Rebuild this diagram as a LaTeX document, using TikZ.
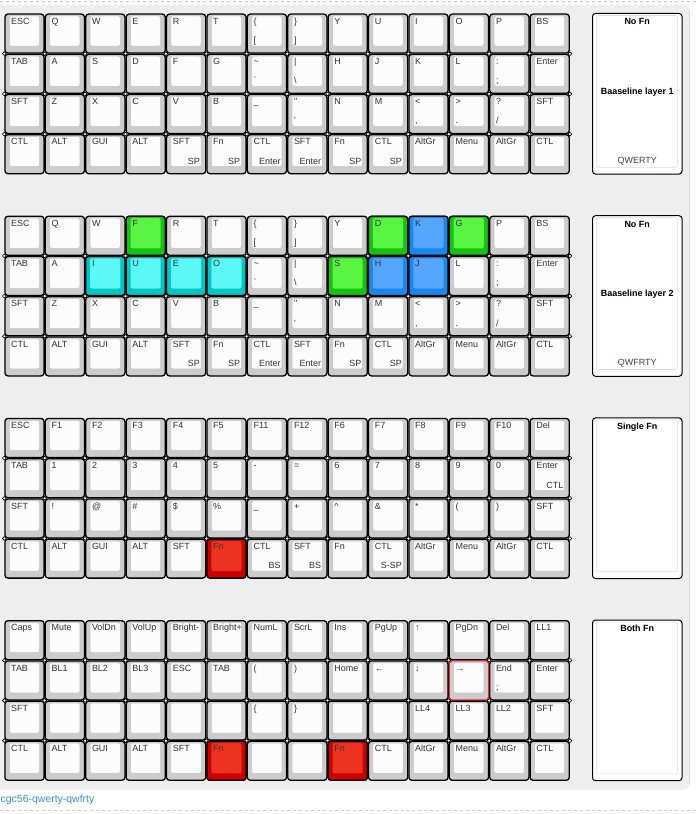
\documentclass[tikz,border=0pt]{standalone}
\usepackage{fontspec}
\newfontfamily\keyfont{Liberation Sans}
\usepackage{xcolor}
\usepackage{tikz}
\definecolor{PanelGrey} {HTML}{EEEEEE}
\definecolor{PanelEdge} {HTML}{DDDDDD}
\definecolor{DashGrey}  {HTML}{CCCCCC}
\definecolor{CapGrey}   {HTML}{CCCCCC}
\definecolor{CapTop}    {HTML}{FCFCFC}
\definecolor{CapEdge}   {HTML}{C4C4C4}
\definecolor{LabelInk}  {HTML}{333333}
\definecolor{FootInk}   {HTML}{3A4257}
\definecolor{LinkBlue}  {HTML}{3D8CC9}
\definecolor{GreenOut}  {HTML}{12C412}
\definecolor{GreenIn}   {HTML}{5AF543}
\definecolor{CyanOut}   {HTML}{00C6C6}
\definecolor{CyanIn}    {HTML}{5DF7F5}
\definecolor{BlueOut}   {HTML}{1589F0}
\definecolor{BlueIn}    {HTML}{55A6FF}
\definecolor{RedOut}    {HTML}{CC0000}
\definecolor{RedIn}     {HTML}{EC3322}
\definecolor{RedLine}   {HTML}{FF2222}

\begin{document}
\begin{tikzpicture}[x=1bp, y=-1bp, font=\keyfont\fontsize{9}{11}\selectfont,
  keycap/.style={draw=black, line width=1.3bp, fill=CapGrey, rounded corners=3bp},
  captop/.style={fill=CapTop, draw=CapEdge, line width=0.5bp, rounded corners=2bp},
  joint/.style={draw=black, fill=white, line width=0.6bp},
  lbl/.style={anchor=base west, inner sep=0pt, text=LabelInk},
  lblr/.style={anchor=base east, inner sep=0pt, text=LabelInk},
  legendbox/.style={draw=black, line width=1bp, fill=white, rounded corners=3bp},
  legendtop/.style={draw=PanelEdge, line width=0.6bp, rounded corners=2bp},
  legendtxt/.style={anchor=base, inner sep=0pt, font=\keyfont\fontsize{9}{11}\selectfont\bfseries}]

  \useasboundingbox (0,0) rectangle (698,814);

  % ===== BACKGROUND =====
  \fill[PanelGrey, rounded corners=5bp] (-10,5) rectangle (689.5,789.5);
  \draw[PanelEdge, line width=0.8bp] (689.5,10) -- (689.5,785);
  \draw[dashed, DashGrey, line width=0.6bp] (0,1.5) -- (698,1.5);
  \draw[dashed, DashGrey, line width=0.6bp] (0,810) -- (698,810);
  \node[anchor=base west, inner sep=0pt, text=LinkBlue,
        font=\keyfont\fontsize{10.5}{12}\selectfont] (link) at (0.5,802.5) {cgc56-qwerty-qwfrty};

  % ===== KEYCAPS (4 layers x 4 rows x 14 keys) =====
  \foreach \L in {0,...,3}{
    \foreach \r in {0,...,3}{
      \foreach \c in {0,...,13}{
        \pgfmathsetmacro\X{4.3+40.4*\c}
        \pgfmathsetmacro\Y{13.5+202.2*\L+40.2*\r}
        \draw[keycap] (\X+0.6,\Y+0.6) rectangle (\X+39.8,\Y+39.6);
        \draw[captop] (\X+5,\Y+2.5) rectangle (\X+35.2,\Y+32.6);
      }
    }
  }

  % highlighted keys (layer/row/col/outer/top)
  \foreach \L/\r/\c/\oc/\ic in {1/0/3/GreenOut/GreenIn, 1/0/9/GreenOut/GreenIn,
      1/0/10/BlueOut/BlueIn, 1/0/11/GreenOut/GreenIn, 1/1/2/CyanOut/CyanIn,
      1/1/3/CyanOut/CyanIn, 1/1/4/CyanOut/CyanIn, 1/1/5/CyanOut/CyanIn,
      1/1/8/GreenOut/GreenIn, 1/1/9/BlueOut/BlueIn, 1/1/10/BlueOut/BlueIn,
      2/3/5/RedOut/RedIn, 3/3/5/RedOut/RedIn, 3/3/8/RedOut/RedIn}{
    \pgfmathsetmacro\X{4.3+40.4*\c}
    \pgfmathsetmacro\Y{13.5+202.2*\L+40.2*\r}
    \draw[keycap, fill=\oc] (\X+0.6,\Y+0.6) rectangle (\X+39.8,\Y+39.6);
    \fill[fill=\ic, rounded corners=2bp] (\X+5,\Y+2.5) rectangle (\X+35.2,\Y+32.6);
  }
  % red outlined arrow key
  \draw[keycap, draw=RedLine, line width=1bp] (4.3+40.4*11+0.6,13.5+202.2*3+40.2+0.6)
        rectangle (4.3+40.4*11+39.8,13.5+202.2*3+40.2+39.6);
  \draw[captop] (4.3+40.4*11+5,13.5+202.2*3+40.2+2.5)
        rectangle (4.3+40.4*11+35.2,13.5+202.2*3+40.2+32.6);

  % joints between rows
  \foreach \L in {0,...,3}{
    \foreach \r in {1,2,3}{
      \foreach \c in {0,...,14}{
        \filldraw[joint] (4.3+40.4*\c,13.5+202.2*\L+40.2*\r) circle (1.9bp);
      }
    }
  }

  % ===== LABELS: layers 1 and 2 (shared rows) =====
  \foreach \L in {0,1}{
    \foreach \t [count=\c from 0] in {SFT,Z,X,C,V,B,\_,",N,M,<,>,?,SFT}{
      \node[lbl] (t-\L-2-\c) at (4.3+40.4*\c+6.7,13.5+202.2*\L+80.4+10.8) {\t};
    }
    \foreach \t [count=\c from 0] in {CTL,ALT,GUI,ALT,SFT,Fn,CTL,SFT,Fn,CTL,AltGr,Menu,AltGr,CTL}{
      \node[lbl] (t-\L-3-\c) at (4.3+40.4*\c+6.7,13.5+202.2*\L+120.6+10.8) {\t};
    }
    % second legend, bottom left
    \foreach \r/\c/\s in {0/6/[, 0/7/], 1/6/`, 1/7/\textbackslash, 1/12/;,
        2/7/', 2/10/{,}, 2/11/., 2/12/{/}}{
      \node[lbl] (b-\L-\r-\c) at (4.3+40.4*\c+6.7,13.5+202.2*\L+40.2*\r+29.9) {\s};
    }
    % hold legend, bottom right
    \foreach \c/\s in {4/SP,5/SP,6/Enter,7/Enter,8/SP,9/SP}{
      \node[lblr] (h-\L-\c) at (4.3+40.4*\c+34.1,13.5+202.2*\L+120.6+29.9) {\s};
    }
  }
  \foreach \t [count=\c from 0] in {ESC,Q,W,E,R,T,\{,\},Y,U,I,O,P,BS}{
    \node[lbl] (t-0-0-\c) at (4.3+40.4*\c+6.7,13.5+10.8) {\t};
  }
  \foreach \t [count=\c from 0] in {TAB,A,S,D,F,G,\textasciitilde,|,H,J,K,L,:,Enter}{
    \node[lbl] (t-0-1-\c) at (4.3+40.4*\c+6.7,13.5+40.2+10.8) {\t};
  }
  \foreach \t [count=\c from 0] in {ESC,Q,W,F,R,T,\{,\},Y,D,K,G,P,BS}{
    \node[lbl] (t-1-0-\c) at (4.3+40.4*\c+6.7,215.7+10.8) {\t};
  }
  \foreach \t [count=\c from 0] in {TAB,A,I,U,E,O,\textasciitilde,|,S,H,J,L,:,Enter}{
    \node[lbl] (t-1-1-\c) at (4.3+40.4*\c+6.7,215.7+40.2+10.8) {\t};
  }

  % ===== LABELS: layer 3 (single Fn) =====
  \foreach \t [count=\c from 0] in {ESC,F1,F2,F3,F4,F5,F11,F12,F6,F7,F8,F9,F10,Del}{
    \node[lbl] (t-2-0-\c) at (4.3+40.4*\c+6.7,417.9+10.8) {\t};
  }
  \foreach \t [count=\c from 0] in {TAB,1,2,3,4,5,-,=,6,7,8,9,0,Enter}{
    \node[lbl] (t-2-1-\c) at (4.3+40.4*\c+6.7,417.9+40.2+10.8) {\t};
  }
  \foreach \t [count=\c from 0] in {SFT,!,@,\#,\$,\%,\_,+,\textasciicircum,\&,*,{(},{)},SFT}{
    \node[lbl] (t-2-2-\c) at (4.3+40.4*\c+6.7,417.9+80.4+10.8) {\t};
  }
  \foreach \t [count=\c from 0] in {CTL,ALT,GUI,ALT,SFT,Fn,CTL,SFT,Fn,CTL,AltGr,Menu,AltGr,CTL}{
    \node[lbl] (t-2-3-\c) at (4.3+40.4*\c+6.7,417.9+120.6+10.8) {\t};
  }
  \foreach \r/\c/\s in {1/13/CTL, 3/6/BS, 3/7/BS, 3/9/S-SP}{
    \node[lblr] (h-2-\r-\c) at (4.3+40.4*\c+34.1,417.9+40.2*\r+29.9) {\s};
  }

  % ===== LABELS: layer 4 (both Fn) =====
  \foreach \t [count=\c from 0] in {Caps,Mute,VolDn,VolUp,Bright-,Bright+,NumL,ScrL,Ins,PgUp,↑,PgDn,Del,LL1}{
    \node[lbl] (t-3-0-\c) at (4.3+40.4*\c+6.7,620.1+10.8) {\t};
  }
  \foreach \t [count=\c from 0] in {TAB,BL1,BL2,BL3,ESC,TAB,{(},{)},Home,←,↓,→,End,Enter}{
    \node[lbl] (t-3-1-\c) at (4.3+40.4*\c+6.7,620.1+40.2+10.8) {\t};
  }
  \foreach \t/\c in {SFT/0,\{/6,\}/7,LL4/10,LL3/11,LL2/12,SFT/13}{
    \node[lbl] (t-3-2-\c) at (4.3+40.4*\c+6.7,620.1+80.4+10.8) {\t};
  }
  \foreach \t/\c in {CTL/0,ALT/1,GUI/2,ALT/3,SFT/4,Fn/5,Fn/8,CTL/9,AltGr/10,Menu/11,AltGr/12,CTL/13}{
    \node[lbl] (t-3-3-\c) at (4.3+40.4*\c+6.7,620.1+120.6+10.8) {\t};
  }
  \node[lbl] (b-3-1-12) at (4.3+40.4*12+6.7,620.1+40.2+29.9) {;};

  % ===== LAYER LEGENDS =====
  \foreach \L/\head in {0/No Fn, 1/No Fn, 2/Single Fn, 3/Both Fn}{
    \draw[legendbox] (592.5,13.5+202.2*\L) rectangle (682,13.5+202.2*\L+160.6);
    \draw[legendtop] (596.3,13.5+202.2*\L+2) rectangle (677.3,13.5+202.2*\L+153.8);
    \node[legendtxt] (head-\L) at (637.2,13.5+202.2*\L+11.5) {\head};
  }
  \foreach \L/\mid/\foot in {0/Baaseline layer 1/QWERTY, 1/Baaseline layer 2/QWFRTY}{
    \node[legendtxt] (mid-\L) at (637.2,13.5+202.2*\L+80.8) {\mid};
    \node[anchor=base, inner sep=0pt, text=FootInk] (foot-\L) at (637.2,13.5+202.2*\L+150.2) {\foot};
  }

\end{tikzpicture}
\end{document}
